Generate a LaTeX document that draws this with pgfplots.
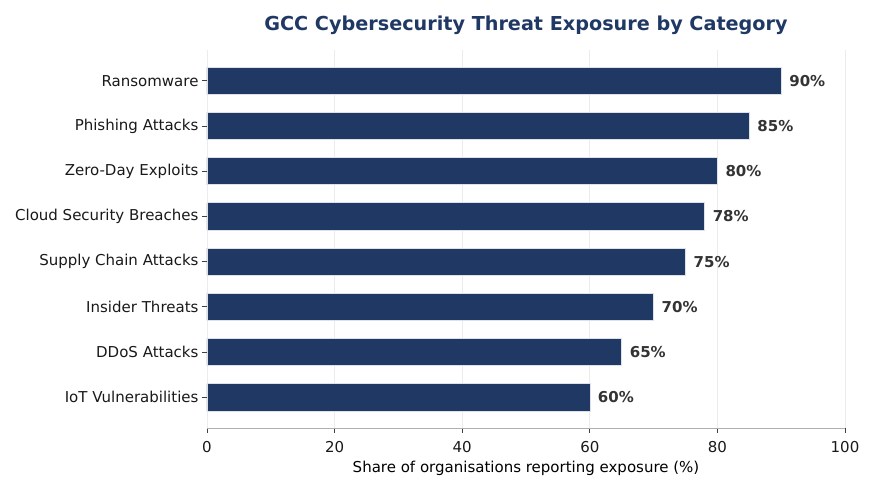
\documentclass[border=0pt]{standalone}
\usepackage{pgfplots}
\pgfplotsset{compat=1.18}
\usepackage{fontspec}
\setmainfont{DejaVu Sans}
\definecolor{navy}{RGB}{31,56,100}
\definecolor{valgray}{RGB}{51,51,51}
\definecolor{gridc}{RGB}{236,236,236}
\definecolor{spine}{RGB}{176,176,176}
\begin{document}
\begin{tikzpicture}
\begin{axis}[
  at={(0pt,0pt)}, anchor=south west,
  scale only axis, width=638pt, height=378pt,
  xmin=0, xmax=100, ymin=-0.68, ymax=7.68,
  xtick={0,20,40,60,80,100},
  ytick={0,1,2,3,4,5,6,7},
  yticklabels={IoT Vulnerabilities,DDoS Attacks,Insider Threats,Supply Chain Attacks,Cloud Security Breaches,Zero-Day Exploits,Phishing Attacks,Ransomware},
  axis lines*=left,
  y axis line style={draw=none},
  x axis line style={draw=spine, line width=0.9pt},
  tick align=outside,
  major tick length=5pt,
  tick style={draw=black!75, line width=0.8pt},
  xmajorgrids, major grid style={draw=gridc, line width=0.8pt},
  /pgf/number format/assume math mode=true,
  tick label style={font=\fontsize{15}{18}\selectfont, text=black!90},
  xticklabel style={yshift=-5pt},
  xlabel={Share of organisations reporting exposure (\%)},
  xlabel style={font=\fontsize{15}{18}\selectfont, at={(axis description cs:0.5,0)}, anchor=base, yshift=-44pt},
  title={GCC Cybersecurity Threat Exposure by Category},
  title style={font=\bfseries\fontsize{19.2}{22}\selectfont, text=navy, at={(axis description cs:0.5,1)}, anchor=base, yshift=14pt},
  clip=false,
  axis on top=false,
]
\addplot[xbar, bar width=27.2pt, fill=navy, draw=white!85!navy, line width=0.6pt,
  nodes near coords={\pgfmathprintnumber{\pgfplotspointmeta}\%},
  point meta=x,
  every node near coord/.append style={font=\bfseries\fontsize{15}{18}\selectfont, text=valgray, anchor=west, xshift=4.5pt, /pgf/number format/assume math mode=true}]
coordinates {(60,0) (65,1) (70,2) (75,3) (78,4) (80,5) (85,6) (90,7)};
\end{axis}
\pgfresetboundingbox
\path (-207pt,-63pt) rectangle (668pt,428pt);
\end{tikzpicture}
\end{document}
